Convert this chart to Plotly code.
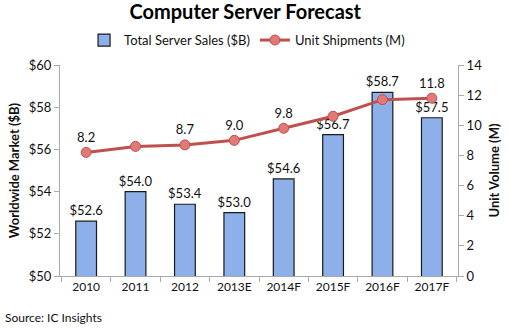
import plotly.graph_objects as go

years = ["2010", "2011", "2012", "2013E", "2014F", "2015F", "2016F", "2017F"]
sales = [52.6, 54.0, 53.4, 53.0, 54.6, 56.7, 58.7, 57.5]
units = [8.2, 8.6, 8.7, 9.0, 9.8, 10.6, 11.7, 11.8]
unit_labels = ["8.2", "", "8.7", "9.0", "9.8", "", "", "11.8"]
left_ticks = [50, 52, 54, 56, 58, 60]
right_ticks = [0, 2, 4, 6, 8, 10, 12, 14]

FONT = "Lato, Carlito, 'Open Sans', sans-serif"

fig = go.Figure()
fig.add_trace(go.Bar(
    x=years, y=sales, name="Total Server Sales ($B)",
    marker=dict(color="#8db0ea", line=dict(color="#1a1a1a", width=1.2)),
    width=0.42,
    text=[f"${v:.1f}" for v in sales], textposition="outside",
    constraintext="none",
    textfont=dict(size=13, color="#111"), cliponaxis=False,
    yaxis="y",
))
fig.add_trace(go.Scatter(
    x=years, y=units, name="Unit Shipments (M)", mode="lines+markers+text",
    line=dict(color="#c0504d", width=3),
    marker=dict(size=10, color="#e07a78", line=dict(color="#c0504d", width=1)),
    text=unit_labels, textposition="top center",
    textfont=dict(size=13, color="#111"), cliponaxis=False,
    yaxis="y2",
))

fig.update_layout(
    width=511, height=328,
    margin=dict(l=60, r=51, t=65, b=52),
    paper_bgcolor="white", plot_bgcolor="white",
    font=dict(family=FONT, size=12, color="#111"),
    title=dict(text="<b>Computer Server Forecast</b>", x=0.48, xanchor="center",
               y=0.985, yanchor="top", font=dict(size=20, color="#000")),
    legend=dict(orientation="h", x=0.47, xanchor="center", y=1.118, yanchor="middle",
                font=dict(size=13), bgcolor="rgba(0,0,0,0)"),
    showlegend=True,
    bargap=0.5,
    xaxis=dict(showline=True, linecolor="#aaa", ticks="outside", tickcolor="#aaa",
               ticklen=5, tickson="boundaries", showgrid=False,
               tickfont=dict(size=12)),
    yaxis=dict(range=[50, 60], tickvals=left_ticks,
               ticktext=[f"${v}" for v in left_ticks], showgrid=False,
               showline=True, linecolor="#aaa", ticks="outside", tickcolor="#aaa",
               ticklen=5, zeroline=False, tickfont=dict(size=13),
               title=dict(text="<b>Worldwide Market ($B)</b>", font=dict(size=13), standoff=6)),
    yaxis2=dict(range=[0, 14], tickvals=right_ticks, overlaying="y", side="right",
                showgrid=False, showline=True, linecolor="#aaa", ticks="outside",
                tickcolor="#aaa", ticklen=5, zeroline=False, tickfont=dict(size=13),
                title=dict(text="<b>Unit Volume (M)</b>", font=dict(size=13), standoff=8)),
    annotations=[dict(text="Source: IC Insights", x=0, xref="paper", xanchor="left",
                      y=-0.195, yref="paper", yanchor="middle", showarrow=False,
                      font=dict(size=12), xshift=-57)],
)

fig.write_html("out.html")
